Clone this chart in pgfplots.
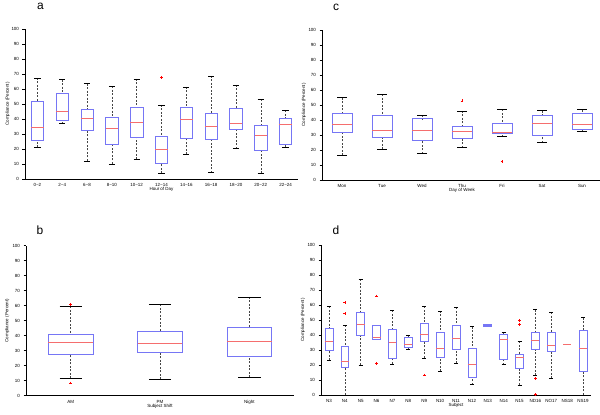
\documentclass[border=0pt]{standalone}
\usepackage{pgfplots}
\pgfplotsset{compat=1.18}
\usepgfplotslibrary{statistics}
\usepackage{fontspec}
\setmainfont{Liberation Sans}
\definecolor{boxblue}{RGB}{118,118,245}
\definecolor{medred}{RGB}{245,110,110}
\definecolor{whisk}{RGB}{70,70,70}
\newcommand{\bx}[7][]{\addplot[draw=red, mark=+, mark size=1.4bp, mark options={solid, line width=0.5bp, draw=red}, boxplot prepared={draw position=#2, lower whisker=#3, lower quartile=#4, median=#5, upper quartile=#6, upper whisker=#7}, #1] coordinates}
\pgfplotsset{
  boxplot/draw/lower whisker/.code={%
    \draw[whisk, line width=0.5bp, dash pattern=on 2bp off 1.5bp]
      (boxplot cs:\pgfplotsboxplotvalue{lower whisker}) -- (boxplot cs:\pgfplotsboxplotvalue{lower quartile});
    \draw[black, line width=0.6bp, solid]
      (boxplot whisker cs:\pgfplotsboxplotvalue{lower whisker},0) -- (boxplot whisker cs:\pgfplotsboxplotvalue{lower whisker},1);
  },
  boxplot/draw/upper whisker/.code={%
    \draw[whisk, line width=0.5bp, dash pattern=on 2bp off 1.5bp]
      (boxplot cs:\pgfplotsboxplotvalue{upper whisker}) -- (boxplot cs:\pgfplotsboxplotvalue{upper quartile});
    \draw[black, line width=0.6bp, solid]
      (boxplot whisker cs:\pgfplotsboxplotvalue{upper whisker},0) -- (boxplot whisker cs:\pgfplotsboxplotvalue{upper whisker},1);
  },
  panel/.style={
    scale only axis, height=150bp,
    ymin=0, ymax=100, ytick={0,10,...,100},
    enlargelimits=false,
    axis lines=left, axis line style={-, line width=0.9bp, black},
    tick align=outside, major tick length=2.5bp,
    xtick style={draw=none},
    ytick style={line width=0.6bp, black},
    tick label style={font=\fontsize{4.5}{5}\selectfont},
    xticklabel style={yshift=1.5bp},
    label style={font=\fontsize{4.5}{5}\selectfont},
    /pgf/number format/assume math mode=true,
    clip=false,
    boxplot/draw direction=y,
    boxplot/box extend=0.5,
    boxplot/whisker extend=0.25,
    boxplot/every box/.style={draw=boxblue, line width=0.6bp, solid},
    boxplot/every median/.style={draw=medred, line width=0.6bp, solid},
    ylabel={Compliance (Percent)},
    xlabel style={at={(axis description cs:0.5,0)}, anchor=center, yshift=-10.5bp},
    anchor=south west,
  }
}
\begin{document}
\begin{tikzpicture}
\useasboundingbox (0,0) rectangle (600bp,415bp);
% ---------- a ----------
\begin{axis}[panel, at={(25bp,236bp)}, width=273bp, xmin=0.5, xmax=11.5,
  xtick={1,...,11},
  xticklabels={0\textasciitilde2,2\textasciitilde4,6\textasciitilde8,8\textasciitilde10,10\textasciitilde12,12\textasciitilde14,14\textasciitilde16,16\textasciitilde18,18\textasciitilde20,20\textasciitilde22,22\textasciitilde24},
  xlabel={Hour of Day},
  ylabel style={at={(axis description cs:-0.063,0.5)}, rotate=0, anchor=center}]
\bx{1}{21.3}{25.7}{34.4}{52.1}{67.4}{};
\bx{2}{36.8}{38.8}{44.8}{57.2}{66.3}{};
\bx{3}{12.0}{32.6}{40.6}{46.6}{63.6}{};
\bx{4}{10.0}{23.1}{33.5}{41.0}{61.9}{};
\bx{5}{13.1}{27.9}{37.5}{48.1}{66.7}{};
\bx{6}{3.8}{10.4}{19.7}{28.6}{49.4}{(0,67.8)};
\bx{7}{16.4}{27.1}{39.7}{47.5}{61.4}{};
\bx{8}{4.2}{26.2}{34.8}{43.5}{68.7}{};
\bx{9}{20.2}{33.0}{37.3}{46.8}{62.7}{};
\bx{10}{3.8}{18.8}{28.8}{36.1}{53.0}{};
\bx{11}{21.3}{23.1}{36.4}{40.4}{45.7}{};
\end{axis}
% ---------- c ----------
\begin{axis}[panel, at={(322bp,235bp)}, width=280bp, xmin=0.5, xmax=7.5,
  xtick={1,...,7},
  xticklabels={Mon,Tue,Wed,Thu,Fri,Sat,Sun},
  xlabel={Day of Week},
  ylabel style={at={(axis description cs:-0.064,0.5)}, rotate=0, anchor=center}]
\bx{1}{16.4}{31.7}{37.0}{44.6}{54.8}{};
\bx{2}{20.4}{28.4}{32.8}{42.8}{57.0}{};
\bx{3}{17.5}{26.4}{33.0}{40.8}{43.2}{};
\bx{4}{21.5}{27.9}{32.6}{35.5}{46.1}{(0,52.8)};
\bx{5}{28.8}{31.0}{31.9}{37.7}{47.0}{(0,12.2)};
\bx{6}{24.8}{29.7}{38.1}{43.2}{46.3}{};
\bx{7}{32.4}{33.5}{37.0}{44.3}{46.8}{};
\end{axis}
% ---------- b ----------
\begin{axis}[panel, at={(26bp,19.3bp)}, width=268bp, xmin=0.5, xmax=3.5,
  xtick={1,2,3},
  xticklabels={AM,PM,Night},
  xlabel={Subject Shift},
  ylabel style={at={(axis description cs:-0.07,0.5)}, rotate=0, anchor=center}]
\bx{1}{11.6}{27.8}{35.3}{40.7}{59.6}{(0,60.9) (0,8.4)};
\bx{2}{10.9}{28.7}{34.7}{42.7}{60.9}{};
\bx{3}{12.4}{26.2}{36.2}{45.6}{65.8}{};
\end{axis}
% ---------- d ----------
\begin{axis}[panel, at={(321bp,20bp)}, width=270bp, xmin=0.5, xmax=17.5,
  xtick={1,...,17},
  xticklabels={N3,N4,N5,N6,N7,N8,N9,N10,N11,N12,N13,N14,N15,ND16,NO17,NS18,NS19},
  xlabel={Subject},
  ylabel style={at={(axis description cs:-0.067,0.5)}, rotate=0, anchor=center}]
\bx{1}{23.1}{30.0}{35.8}{44.2}{59.1}{};
\bx{2}{0.0}{18.7}{22.7}{32.2}{46.4}{(0,61.6) (0,54.2)};
\bx{3}{20.0}{39.8}{47.3}{54.9}{77.3}{};
\bx[boxplot/whisker extend=0]{4}{37.1}{37.1}{38.4}{46.2}{46.2}{(0,66.0) (0,21.1)};
\bx{5}{20.7}{24.7}{34.9}{43.8}{56.4}{};
\bx{6}{30.7}{31.6}{33.6}{38.7}{40.0}{};
\bx{7}{24.7}{35.8}{40.2}{47.6}{59.1}{(0,13.3)};
\bx{8}{15.8}{25.1}{30.9}{41.8}{56.0}{};
\bx{9}{21.1}{30.4}{37.8}{46.2}{58.4}{};
\bx{10}{6.9}{12.0}{20.7}{30.9}{45.6}{};
\bx[boxplot/whisker extend=0, boxplot/every median/.style={draw=boxblue, line width=0.6bp}]{11}{46.0}{46.0}{46.4}{46.8}{46.8}{};
\bx{12}{20.2}{23.8}{37.3}{40.7}{41.8}{};
\bx{13}{6.7}{17.8}{25.1}{27.3}{35.8}{(0,49.8) (0,46.9)};
\bx{14}{13.1}{30.2}{36.7}{41.6}{56.9}{(0,11.1) (0,0.2)};
\bx{15}{11.1}{29.1}{32.9}{41.6}{55.3}{};
\bx[boxplot/whisker extend=0, boxplot/every box/.style={draw=none}]{16}{33.8}{33.8}{33.8}{33.8}{33.8}{};
\bx{17}{0.0}{15.8}{31.3}{43.3}{51.6}{};
\end{axis}
\node[font=\fontsize{12}{14}\selectfont, anchor=base] at (40.5bp,405bp) {a};
\node[font=\fontsize{12}{14}\selectfont, anchor=base] at (336bp,404bp) {c};
\node[font=\fontsize{12}{14}\selectfont, anchor=base] at (40bp,180bp) {b};
\node[font=\fontsize{12}{14}\selectfont, anchor=base] at (336bp,180bp) {d};
\end{tikzpicture}
\end{document}
